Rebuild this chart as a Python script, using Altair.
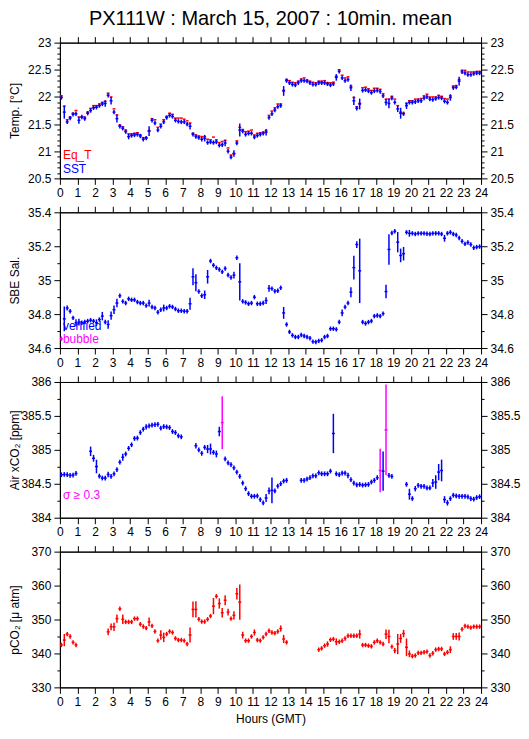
import altair as alt
import pandas as pd

FONT = "Liberation Sans"
BLUE = "#0000ff"
RED = "#ff0000"
MAGENTA = "#ff00ff"

TITLE = "PX111W : March 15, 2007 : 10min. mean"
X_TITLE = "Hours (GMT)"
Y_TITLES = ["Temp. [°C]", "SBE Sal.", "Air xCO₂ [ppm]", "pCO₂ [μ atm]"]
LEGEND_T = ["Eq_T", "SST"]
LEGEND_S = ["verified", "bubble"]
LEGEND_A = ["σ ≥ 0.3"]
BIN_MINUTES = 10
SIGMA_LIMIT = 0.3

# ---------------- Panel 1 : temperatures (10-min bins, 0..143) ----------------
EQ_T = [
    22.02, 21.83, 21.58, 21.63, 21.70, 21.75, 21.63, 21.63, 21.63, 21.72, 21.79, 21.84,
    21.84, 21.87, 21.90, 21.92, 22.07, 22.00, 21.78, 21.67, 21.48, 21.45, 21.39, 21.32,
    21.32, 21.33, 21.34, 21.30, 21.25, 21.25, 21.38, 21.60, 21.58, 21.44, 21.50, 21.58,
    21.64, 21.70, 21.68, 21.61, 21.61, 21.61, 21.59, 21.56, 21.52, 21.33, 21.30, 21.28,
    21.27, 21.27, 21.22, 21.21, 21.26, 21.21, 21.16, 21.18, 21.20, 21.06, 20.93, 20.95,
    21.19, 21.44, 21.40, 21.36, 21.37, 21.39, 21.30, 21.33, 21.34, 21.35, 21.38, 21.66,
    21.74, 21.80, 21.87, 21.87, 22.12, 22.32, 22.30, 22.27, 22.26, 22.29, 22.33, 22.35,
    22.31, 22.29, 22.27, 22.26, 22.29, 22.29, 22.30, 22.26, 22.26, 22.27, 22.38, 22.50,
    22.40, 22.35, 22.37, 22.20, 21.99, 21.82, 21.88, 22.17, 22.18, 22.15, 22.12, 22.16,
    22.16, 22.14, 22.06, 21.96, 21.96, 22.01, 21.96, 21.84, 21.72, 21.70, 21.88, 21.93,
    21.93, 21.96, 21.96, 21.97, 22.02, 22.05, 22.00, 22.00, 22.00, 22.03, 22.01, 21.97,
    21.96, 22.02, 22.20, 22.21, 22.32, 22.49, 22.49, 22.46, 22.46, 22.46, 22.47, 22.47,
]
SST = [
    21.99, 21.72, 21.54, 21.61, 21.68, 21.69, 21.57, 21.63, 21.60, 21.70, 21.75, 21.80,
    21.81, 21.84, 21.87, 21.88, 22.03, 21.93, 21.72, 21.60, 21.46, 21.42, 21.36, 21.27,
    21.29, 21.30, 21.31, 21.28, 21.22, 21.24, 21.37, 21.57, 21.52, 21.39, 21.46, 21.54,
    21.62, 21.66, 21.64, 21.57, 21.55, 21.54, 21.54, 21.50, 21.46, 21.31, 21.27, 21.25,
    21.22, 21.24, 21.16, 21.17, 21.16, 21.17, 21.11, 21.12, 21.15, 21.00, 20.89, 20.96,
    21.15, 21.39, 21.37, 21.31, 21.33, 21.33, 21.26, 21.29, 21.31, 21.33, 21.35, 21.62,
    21.69, 21.76, 21.82, 21.84, 22.11, 22.30, 22.26, 22.23, 22.22, 22.26, 22.30, 22.30,
    22.29, 22.26, 22.23, 22.23, 22.26, 22.26, 22.26, 22.24, 22.22, 22.24, 22.36, 22.47,
    22.35, 22.30, 22.32, 22.17, 21.93, 21.79, 21.87, 22.12, 22.13, 22.11, 22.08, 22.11,
    22.12, 22.10, 22.02, 21.90, 21.88, 21.98, 21.90, 21.78, 21.70, 21.69, 21.84, 21.90,
    21.90, 21.91, 21.93, 21.93, 21.98, 22.00, 21.96, 21.95, 21.97, 21.99, 21.98, 21.92,
    21.90, 21.99, 22.17, 22.18, 22.29, 22.46, 22.44, 22.41, 22.41, 22.43, 22.44, 22.44,
]
SST_SD = [
    0.04, 0.12, 0.04, 0.04, 0.04, 0.04, 0.065, 0.04, 0.04, 0.04, 0.04, 0.04,
    0.04, 0.04, 0.04, 0.06, 0.04, 0.07, 0.04, 0.07, 0.04, 0.04, 0.04, 0.05,
    0.04, 0.04, 0.04, 0.04, 0.04, 0.04, 0.09, 0.04, 0.04, 0.04, 0.04, 0.04,
    0.04, 0.04, 0.04, 0.04, 0.04, 0.04, 0.04, 0.04, 0.06, 0.04, 0.04, 0.04,
    0.04, 0.06, 0.04, 0.04, 0.04, 0.04, 0.04, 0.04, 0.06, 0.04, 0.04, 0.06,
    0.04, 0.12, 0.04, 0.04, 0.04, 0.04, 0.04, 0.04, 0.04, 0.04, 0.06, 0.04,
    0.04, 0.04, 0.04, 0.04, 0.09, 0.04, 0.04, 0.04, 0.04, 0.04, 0.04, 0.04,
    0.04, 0.04, 0.04, 0.04, 0.04, 0.04, 0.04, 0.04, 0.04, 0.04, 0.06, 0.04,
    0.04, 0.04, 0.04, 0.06, 0.08, 0.04, 0.10, 0.04, 0.04, 0.04, 0.04, 0.04,
    0.04, 0.04, 0.04, 0.06, 0.09, 0.04, 0.04, 0.06, 0.10, 0.04, 0.06, 0.04,
    0.04, 0.04, 0.04, 0.04, 0.04, 0.04, 0.04, 0.04, 0.04, 0.04, 0.04, 0.04,
    0.04, 0.06, 0.04, 0.04, 0.08, 0.04, 0.04, 0.04, 0.04, 0.04, 0.04, 0.04,
]

# ---------------- Panel 2 : salinity ----------------
SAL = [
    34.655, 34.772, 34.836, 34.817, 34.778, 34.749, 34.753, 34.749, 34.753, 34.759, 34.764, 34.759,
    34.749, 34.768, 34.788, 34.753, 34.739, 34.791, 34.826, 34.865, 34.908, 34.875, 34.865, 34.890,
    34.884, 34.884, 34.871, 34.865, 34.865, 34.850, 34.865, 34.842, 34.836, 34.811, 34.826, 34.836,
    34.836, 34.846, 34.842, 34.830, 34.820, 34.820, 34.817, 34.817, 34.861, 35.020, 34.985, 34.933,
    34.908, 34.914, 35.020, 35.113, 35.088, 35.073, 35.063, 35.049, 35.069, 35.030, 35.016, 35.030,
    35.132, 34.990, 34.875, 34.869, 34.861, 34.865, 34.900, 34.861, 34.861, 34.865, 34.880, 34.952,
    34.950, 34.935, 34.938, 34.955, 34.807, 34.739, 34.695, 34.675, 34.665, 34.665, 34.677, 34.671,
    34.665, 34.658, 34.638, 34.636, 34.642, 34.646, 34.665, 34.671, 34.714, 34.714, 34.710, 34.753,
    34.807, 34.842, 34.865, 34.929, 35.074, 35.210, 35.055, 34.753, 34.745, 34.753, 34.759, 34.788,
    34.792, 34.788, 34.803, 34.933, 35.181, 35.278, 35.288, 35.224, 35.146, 35.156, 35.282, 35.276,
    35.276, 35.272, 35.276, 35.276, 35.276, 35.274, 35.272, 35.276, 35.276, 35.276, 35.272, 35.247,
    35.276, 35.282, 35.272, 35.266, 35.249, 35.229, 35.214, 35.222, 35.210, 35.191, 35.195, 35.198,
]
SAL_SD = [
    0.013, 0.073, 0.015, 0.013, 0.013, 0.020, 0.020, 0.013, 0.013, 0.013, 0.013, 0.013,
    0.020, 0.013, 0.025, 0.013, 0.025, 0.025, 0.025, 0.025, 0.013, 0.013, 0.013, 0.013,
    0.013, 0.013, 0.013, 0.013, 0.013, 0.013, 0.020, 0.013, 0.013, 0.013, 0.013, 0.020,
    0.013, 0.013, 0.013, 0.013, 0.013, 0.013, 0.013, 0.013, 0.035, 0.050, 0.050, 0.013,
    0.013, 0.025, 0.040, 0.013, 0.013, 0.013, 0.013, 0.013, 0.013, 0.013, 0.013, 0.020,
    0.013, 0.110, 0.013, 0.013, 0.013, 0.013, 0.013, 0.013, 0.013, 0.013, 0.020, 0.020,
    0.013, 0.013, 0.013, 0.013, 0.035, 0.013, 0.013, 0.013, 0.013, 0.013, 0.013, 0.013,
    0.013, 0.013, 0.013, 0.013, 0.013, 0.013, 0.013, 0.013, 0.013, 0.013, 0.013, 0.013,
    0.020, 0.013, 0.013, 0.030, 0.070, 0.020, 0.190, 0.013, 0.013, 0.013, 0.013, 0.013,
    0.013, 0.013, 0.013, 0.040, 0.090, 0.013, 0.013, 0.060, 0.040, 0.040, 0.013, 0.020,
    0.013, 0.013, 0.013, 0.013, 0.013, 0.013, 0.013, 0.013, 0.013, 0.013, 0.013, 0.020,
    0.013, 0.013, 0.013, 0.013, 0.013, 0.013, 0.013, 0.013, 0.013, 0.013, 0.013, 0.013,
]
SAL_BUBBLE_BINS = [0]

# ---------------- Panel 3 : air xCO2 ----------------
AIR = [
    384.633, 384.637, 384.633, 384.623, 384.628, 384.652, None, None, None, None, 384.978, 384.876,
    384.754, 384.613, 384.584, 384.584, 384.637, 384.608, 384.647, 384.710, 384.818, 384.891, 384.939, 385.022,
    385.075, 385.168, 385.173, 385.255, 385.304, 385.338, 385.353, 385.363, 385.372, 385.377, 385.319, 385.343,
    385.338, 385.328, 385.270, 385.255, 385.207, 385.192, None, None, None, None, 385.061, 384.998,
    384.949, 385.036, 385.012, 385.012, 384.963, 384.939, 385.270, 385.401, 384.866, 384.808, 384.783, 384.735,
    384.672, 384.608, 384.511, 384.428, 384.355, 384.316, 384.316, 384.321, 384.268, 384.219, 384.290, 384.394,
    384.404, 384.394, 384.467, 384.501, 384.540, 384.550, None, None, None, None, 384.550, 384.550,
    384.569, 384.589, 384.618, 384.618, 384.662, 384.647, 384.647, 384.647, 384.686, 385.241, 384.647, 384.633,
    384.657, 384.657, 384.623, 384.560, 384.510, 384.485, 384.490, 384.480, 384.485, 384.490, 384.526, 384.550,
    384.589, 384.696, 384.686, 385.294, 384.623, 384.608, None, None, None, None, 384.491, 384.346,
    384.282, 384.428, 384.477, 384.462, 384.462, 384.438, 384.438, 384.511, 384.526, 384.672, 384.696, 384.268,
    384.219, 384.282, 384.331, 384.321, 384.316, 384.316, 384.316, 384.306, 384.282, 384.272, 384.297, 384.310,
]
AIR_SD = [
    0.035, 0.035, 0.035, 0.035, 0.035, 0.035, 0.035, 0.035, 0.035, 0.035, 0.070, 0.050,
    0.100, 0.035, 0.035, 0.035, 0.040, 0.035, 0.035, 0.035, 0.035, 0.050, 0.035, 0.035,
    0.035, 0.035, 0.035, 0.035, 0.035, 0.040, 0.035, 0.035, 0.035, 0.035, 0.035, 0.035,
    0.035, 0.035, 0.035, 0.035, 0.035, 0.035, 0.035, 0.035, 0.035, 0.035, 0.040, 0.035,
    0.035, 0.035, 0.060, 0.080, 0.035, 0.050, 0.070, 0.390, 0.035, 0.035, 0.035, 0.035,
    0.035, 0.035, 0.035, 0.035, 0.035, 0.035, 0.035, 0.035, 0.035, 0.035, 0.060, 0.050,
    0.190, 0.035, 0.035, 0.035, 0.035, 0.035, 0.035, 0.035, 0.035, 0.035, 0.035, 0.035,
    0.035, 0.035, 0.035, 0.035, 0.035, 0.035, 0.035, 0.035, 0.035, 0.290, 0.035, 0.035,
    0.035, 0.035, 0.040, 0.035, 0.035, 0.035, 0.035, 0.035, 0.035, 0.035, 0.035, 0.035,
    0.035, 0.320, 0.290, 0.670, 0.035, 0.035, 0.035, 0.035, 0.035, 0.035, 0.035, 0.080,
    0.035, 0.040, 0.035, 0.035, 0.035, 0.035, 0.035, 0.060, 0.100, 0.120, 0.160, 0.050,
    0.040, 0.035, 0.035, 0.035, 0.035, 0.035, 0.035, 0.035, 0.035, 0.035, 0.035, 0.035,
]

# ---------------- Panel 4 : seawater pCO2 ----------------
PCO2 = [
    342.51, 343.94, 345.69, 345.01, 343.27, 342.51, None, None, None, None, None, None,
    None, None, None, None, 346.38, 347.84, 347.84, 350.26, 353.16, 350.06, 349.29, 349.29,
    349.29, 350.26, 350.26, 348.61, 347.93, 347.45, 349.29, 348.13, 346.48, 343.77, 345.41, 344.74,
    345.71, 346.48, 346.18, 344.44, 343.96, 343.96, 343.77, 342.80, 345.41, 352.97, 352.97, 350.06,
    349.38, 349.38, 350.06, 351.03, 353.94, 356.84, 354.71, 352.00, 355.68, 352.19, 350.26, 351.23,
    357.62, 355.10, 345.41, 343.77, 343.77, 345.01, 346.18, 343.96, 343.77, 344.74, 345.71, 346.67,
    346.18, 345.99, 346.48, 347.35, 344.25, 343.28, None, None, None, None, None, None,
    None, None, None, None, 341.12, 341.51, 342.29, 342.77, 344.03, 344.22, 343.45, 343.45,
    343.74, 344.42, 345.19, 345.19, 345.19, 345.19, 345.68, 342.48, 342.48, 342.29, 342.09, 343.25,
    343.74, 343.25, 342.77, 345.68, 345.00, 342.00, 340.84, 342.77, 344.42, 345.87, 341.80, 339.86,
    339.19, 339.38, 340.16, 340.16, 340.35, 340.54, 339.38, 340.06, 341.12, 341.32, 341.32, 339.86,
    340.35, 341.12, 345.00, 345.00, 345.00, 347.12, 348.09, 347.90, 347.60, 347.90, 347.90, 347.90,
]
PCO2_SD = [
    0.65, 1.80, 0.65, 0.65, 0.65, 0.65, 0.65, 0.65, 0.65, 0.65, 0.65, 0.65,
    0.65, 0.65, 0.65, 0.65, 1.00, 1.00, 1.20, 1.20, 0.65, 1.40, 0.65, 0.65,
    0.65, 0.65, 0.65, 0.65, 0.65, 0.65, 1.30, 0.65, 0.65, 0.65, 1.40, 1.40,
    0.65, 0.65, 0.65, 0.65, 0.65, 0.65, 0.65, 0.65, 2.20, 2.30, 2.40, 0.65,
    0.65, 0.65, 0.65, 0.65, 2.40, 0.65, 1.50, 1.40, 1.50, 1.00, 0.65, 1.20,
    1.70, 5.20, 1.00, 0.65, 0.65, 0.65, 0.90, 0.65, 0.65, 0.65, 0.65, 0.65,
    0.65, 0.65, 0.65, 0.90, 1.20, 0.65, 0.65, 0.65, 0.65, 0.65, 0.65, 0.65,
    0.65, 0.65, 0.65, 0.65, 0.65, 0.65, 0.65, 0.80, 0.65, 0.65, 1.00, 0.65,
    0.65, 0.65, 0.65, 0.65, 0.65, 0.65, 1.30, 0.65, 0.65, 0.65, 0.65, 0.65,
    0.65, 0.65, 0.65, 1.40, 2.00, 0.65, 0.80, 3.00, 1.30, 1.10, 2.60, 1.00,
    0.65, 0.65, 0.65, 0.65, 0.65, 0.65, 0.65, 0.65, 0.65, 0.65, 0.65, 0.65,
    0.65, 1.00, 1.00, 1.00, 1.20, 0.65, 0.65, 0.65, 0.65, 0.65, 0.65, 0.65,
]

for arr in (EQ_T, SST, SST_SD, SAL, SAL_SD, AIR, AIR_SD, PCO2, PCO2_SD):
    assert len(arr) == 144, len(arr)


def frame(values, sds, colors):
    rows = []
    step = BIN_MINUTES / 60.0
    for i, v in enumerate(values):
        if v is None:
            continue
        s = sds[i] if sds is not None else 0.0
        rows.append({"t0": i * step, "t1": (i + 1) * step, "tc": (i + 0.5) * step,
                     "v": v, "lo": v - s, "hi": v + s, "c": colors[i]})
    return pd.DataFrame(rows)


df_eq = frame(EQ_T, None, [RED] * 144)
df_sst = frame(SST, SST_SD, [BLUE] * 144)
df_sal = frame(SAL, SAL_SD, [MAGENTA if i in SAL_BUBBLE_BINS else BLUE for i in range(144)])
df_air = frame(AIR, AIR_SD, [MAGENTA if AIR_SD[i] >= SIGMA_LIMIT else BLUE for i in range(144)])
df_pco2 = frame(PCO2, PCO2_SD, [RED] * 144)

W, H = 422, 136
SW = 1.5
XS = alt.Scale(domain=[0, 24], nice=False, zero=False)


def steps(lo, hi, step):
    n = int(round((hi - lo) / step))
    return [round(lo + k * step, 6) for k in range(n + 1)]


def major(step):
    return f"abs(datum.value / {step} - round(datum.value / {step})) < 0.001"


def xaxis(orient, labels, title=None):
    t = major(1)
    kw = dict(orient=orient, values=steps(0, 24, 0.5), labels=labels, format="d",
              labelExpr=f"({t}) ? datum.label : ''", labelOverlap=False, labelFlush=False,
              tickSize={"condition": {"test": t, "value": 6}, "value": 3},
              grid=False, labelPadding=3)
    if title is None:
        kw["title"] = None
    else:
        kw.update(title=title, titleFontWeight="normal", titleFontSize=12, titlePadding=6)
    return alt.Axis(**kw)


def yaxis(orient, lo, hi, minor, maj, fmt, title=None):
    t = major(maj)
    kw = dict(orient=orient, values=steps(lo, hi, minor), format=fmt,
              labelExpr=f"({t}) ? datum.label : ''", labelOverlap=False, labelFlush=False,
              tickSize={"condition": {"test": t, "value": 6}, "value": 3},
              grid=False, labelPadding=3)
    if title is None:
        kw["title"] = None
    else:
        kw.update(title=title, titleFontWeight="normal", titleFontSize=12,
                  titleX=-38, titleY=H / 2, titleAlign="center", titleBaseline="bottom")
    return alt.Axis(**kw)


def label(text, color, x, y):
    return alt.Chart(pd.DataFrame({"t": [text]})).mark_text(
        align="left", baseline="alphabetic", font=FONT, fontSize=12, color=color
    ).encode(text="t:N", x=alt.value(x), y=alt.value(y))


def panel(series, dom, minor, maj, fmt, ytitle, labels, xtitle=None):
    ys = alt.Scale(domain=dom, nice=False, zero=False)
    layers = []
    for k, (df, verticals) in enumerate(series):
        if k == 0:
            ax_x, ax_y = xaxis("bottom", True, xtitle), yaxis("left", dom[0], dom[1], minor, maj, fmt, ytitle)
        elif k == 1:
            ax_x, ax_y = xaxis("top", False), yaxis("right", dom[0], dom[1], minor, maj, fmt)
        else:
            ax_x, ax_y = None, None
        layers.append(alt.Chart(df).mark_rule(strokeWidth=SW).encode(
            x=alt.X("t0:Q", scale=XS, axis=ax_x), x2="t1:Q",
            y=alt.Y("v:Q", scale=ys, axis=ax_y),
            color=alt.Color("c:N", scale=None)))
        if verticals:
            layers.append(alt.Chart(df).mark_rule(strokeWidth=SW).encode(
                x=alt.X("tc:Q", scale=XS, axis=None),
                y=alt.Y("lo:Q", scale=ys, axis=None), y2="hi:Q",
                color=alt.Color("c:N", scale=None)))
    layers += labels
    return alt.layer(*layers).resolve_axis(x="independent", y="independent").properties(width=W, height=H)


p1 = panel([(df_eq, False), (df_sst, True)], [20.5, 23], 0.1, 0.5, ".1~f", Y_TITLES[0],
           [label(LEGEND_T[0], RED, 3, 117), label(LEGEND_T[1], BLUE, 3, 131)])
p2 = panel([(df_sal, True), (df_sal.iloc[0:0], False)], [34.6, 35.4], 0.1, 0.2, ".1~f", Y_TITLES[1],
           [label(LEGEND_S[0], BLUE, 3, 118), label(LEGEND_S[1], MAGENTA, 3, 131)])
p3 = panel([(df_air, True), (df_air.iloc[0:0], False)], [384, 386], 0.25, 0.5, ".1~f", Y_TITLES[2],
           [label(LEGEND_A[0], MAGENTA, 3, 117)])
p4 = panel([(df_pco2, True), (df_pco2.iloc[0:0], False)], [330, 370], 5, 10, "d", Y_TITLES[3],
           [], xtitle=X_TITLE)

chart = alt.vconcat(p1, p2, p3, p4, spacing=34, bounds="flush").properties(
    title=alt.TitleParams(TITLE, font=FONT, fontSize=20, fontWeight="normal", color="black",
                          anchor="middle", frame="group", offset=7),
    padding=0,
).configure_view(stroke="black", strokeWidth=1).configure_axis(
    domainColor="black", tickColor="black", labelColor="black", titleColor="black",
    labelFont=FONT, titleFont=FONT, labelFontSize=12, domainWidth=1, tickWidth=1,
)

chart.save("out.html", embed_options={"renderer": "svg", "actions": False})
